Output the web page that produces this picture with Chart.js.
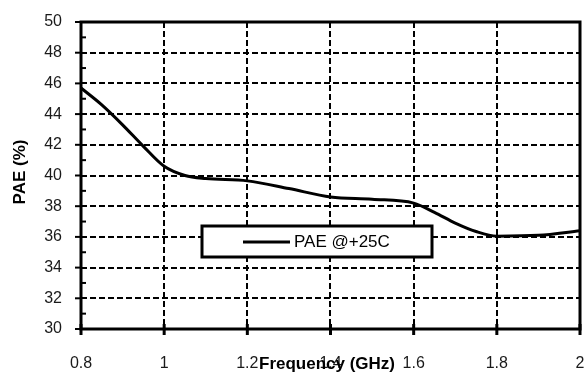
<!DOCTYPE html>
<html lang="en">
<head>
<meta charset="UTF-8">
<title>PAE vs Frequency</title>
<script src="https://cdn.jsdelivr.net/npm/chart.js"></script>
<style>
  html, body { margin: 0; padding: 0; background: #fff; }
  #wrap { width: 587px; height: 381px; }
</style>
</head>
<body>
<div id="wrap"><canvas id="paeChart" width="587" height="381"></canvas></div>
<script>
// PAE measured across the band at +25C
const freqGHz = [0.8, 0.85, 0.9, 0.95, 1.0, 1.05, 1.1, 1.2, 1.3, 1.4, 1.5, 1.6, 1.65, 1.7, 1.75, 1.8, 1.9, 2.0];
const pae25C  = [45.7, 44.6, 43.3, 41.9, 40.6, 40.0, 39.8, 39.65, 39.15, 38.6, 38.45, 38.2, 37.6, 36.9, 36.35, 36.05, 36.1, 36.4];

const xTicks = [0.8, 1, 1.2, 1.4, 1.6, 1.8, 2];
const yTicks = [30, 32, 34, 36, 38, 40, 42, 44, 46, 48, 50];

const seriesLabel = 'PAE @+25C';
const xTitle = 'Frequency (GHz)';
const yTitle = 'PAE (%)';

const FONT = '"Liberation Sans", Arial, sans-serif';

// frame, tick marks, axis titles and the boxed legend
const decorations = {
  id: 'decorations',
  afterDraw(chart) {
    const { ctx, chartArea: a, scales: { x, y } } = chart;
    ctx.save();
    ctx.strokeStyle = '#000';

    // y ticks: major outside, minor inside
    ctx.lineWidth = 2;
    yTicks.forEach(v => {
      const py = y.getPixelForValue(v);
      ctx.beginPath(); ctx.moveTo(a.left - 6, py); ctx.lineTo(a.left, py); ctx.stroke();
    });
    for (let v = 31; v < 50; v += 2) {
      const py = y.getPixelForValue(v);
      ctx.beginPath(); ctx.moveTo(a.left, py); ctx.lineTo(a.left + 5, py); ctx.stroke();
    }
    // x ticks crossing the bottom axis
    ctx.lineWidth = 3;
    xTicks.forEach(v => {
      const px = x.getPixelForValue(v);
      ctx.beginPath(); ctx.moveTo(px, a.bottom - 5); ctx.lineTo(px, a.bottom + 6); ctx.stroke();
    });

    // heavy plot frame
    ctx.lineWidth = 3;
    ctx.strokeRect(a.left, a.top, a.right - a.left, a.bottom - a.top);

    // axis titles
    ctx.fillStyle = '#000';
    ctx.font = 'bold 17px ' + FONT;
    ctx.textAlign = 'center';
    ctx.textBaseline = 'middle';
    ctx.fillText(xTitle, 327, 364);
    ctx.save();
    ctx.translate(20, 172);
    ctx.rotate(-Math.PI / 2);
    ctx.fillText(yTitle, 0, 0);
    ctx.restore();

    // legend box
    const lx = 202, ly = 226, lw = 230, lh = 31;
    ctx.fillStyle = '#fff';
    ctx.fillRect(lx, ly, lw, lh);
    ctx.lineWidth = 3;
    ctx.strokeRect(lx, ly, lw, lh);
    ctx.beginPath(); ctx.moveTo(243, 242); ctx.lineTo(290, 242); ctx.stroke();
    ctx.fillStyle = '#000';
    ctx.font = '17px ' + FONT;
    ctx.textAlign = 'left';
    ctx.fillText(seriesLabel, 294, 242);
    ctx.restore();
  }
};

new Chart(document.getElementById('paeChart'), {
  type: 'line',
  data: {
    datasets: [{
      label: seriesLabel,
      data: freqGHz.map((f, i) => ({ x: f, y: pae25C[i] })),
      borderColor: '#000',
      borderWidth: 3,
      pointRadius: 0,
      fill: false,
      cubicInterpolationMode: 'monotone'
    }]
  },
  options: {
    responsive: false,
    animation: false,
    devicePixelRatio: 1,
    layout: { padding: { left: 0, top: 22, right: 7, bottom: 0 } },
    plugins: { legend: { display: false }, tooltip: { enabled: false } },
    scales: {
      x: {
        type: 'linear',
        min: 0.8,
        max: 2,
        afterBuildTicks: s => { s.ticks = xTicks.map(v => ({ value: v })); },
        afterFit: s => { s.height = 52; s.paddingLeft = 0; s.paddingRight = 0; },
        grid: { color: '#000', lineWidth: 2, drawTicks: false },
        border: { display: false, dash: [6, 3] },
        ticks: {
          padding: 25,
          color: '#1a1a1a',
          font: { family: FONT, size: 16 },
          maxRotation: 0,
          callback: v => String(+v.toFixed(1))
        }
      },
      y: {
        min: 30,
        max: 50,
        afterBuildTicks: s => { s.ticks = yTicks.map(v => ({ value: v })); },
        afterFit: s => { s.width = 81; s.paddingTop = 0; s.paddingBottom = 0; },
        grid: { color: '#000', lineWidth: 2, drawTicks: false },
        border: { display: false, dash: [6, 3] },
        ticks: {
          padding: 19,
          color: '#1a1a1a',
          font: { family: FONT, size: 16 },
          callback: v => String(v)
        }
      }
    }
  },
  plugins: [decorations]
});
</script>
</body>
</html>
